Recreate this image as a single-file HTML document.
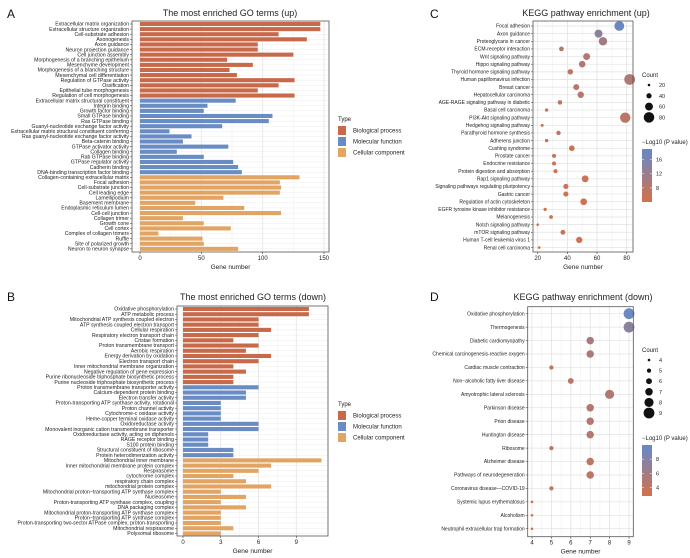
<!DOCTYPE html>
<html><head><meta charset="utf-8">
<style>
body{margin:0;background:#fff;}
svg{display:block;font-family:"Liberation Sans",Arial,sans-serif;}
</style></head>
<body>
<svg id="fig" width="690" height="558" viewBox="0 0 690 558" xmlns="http://www.w3.org/2000/svg"></svg>
<script>
// ---- Panel A data ----
const aLabels=["Extracellular matrix organization","Extracellular structure organization","Cell-substrate adhesion","Axonogenesis","Axon guidance","Neuron projection guidance","Cell junction assembly","Morphogenesis of a branching epithelium","Mesenchyme development","Morphogenesis of a branching structure","Mesenchymal cell differentiation","Regulation of GTPase activity","Ossification","Epithelial tube morphogenesis","Regulation of cell morphogenesis","Extracellular matrix structural constituent","Integrin binding","Growth factor binding","Small GTPase binding","Ras GTPase binding","Guanyl-nucleotide exchange factor activity","Extracellular matrix structural constituent conferring","Ras guanyl-nucleotide exchange factor activity","Beta-catenin binding","GTPase activator activity","Collagen binding","Rab GTPase binding","GTPase regulator activity","Cadherin binding","DNA-binding transcription factor binding","Collagen-containing extracellular matrix","Focal adhesion","Cell-substrate junction","Cell leading edge","Lamellipodium","Basement membrane","Endoplasmic reticulum lumen","Cell-cell junction","Collagen trimer","Growth cone","Cell cortex","Complex of collagen trimers","Ruffle","Site of polarized growth","Neuron to neuron synapse"];
const aValues=[147,147,113,136,96,96,125,71,92,73,79,126,113,96,126,78,55,52,108,105,67,24,42,35,72,30,52,76,80,83,130,114,115,114,68,45,85,115,35,52,74,15,51,52,80];
const aTypes=[0,0,0,0,0,0,0,0,0,0,0,0,0,0,0,1,1,1,1,1,1,1,1,1,1,1,1,1,1,1,2,2,2,2,2,2,2,2,2,2,2,2,2,2,2];
const aTicks=[0,50,100,150];
// ---- Panel B data ----
const bLabels=["Oxidative phosphorylation","ATP metabolic process","Mitochondrial ATP synthesis coupled electron","ATP synthesis coupled electron transport","Cellular respiration","Respiratory electron transport chain","Cristae formation","Proton transmembrane transport","Aerobic respiration","Energy derivation by oxidation","Electron transport chain","Inner mitochondrial membrane organization","Negative regulation of gene expression","Purine ribonucleoside triphosphate biosynthetic process","Purine nucleoside triphosphate biosynthetic process","Proton transmembrane transporter activity","Calcium-dependent protein binding","Electron transfer activity","Proton-transporting ATP synthase activity, rotational","Proton channel activity","Cytochrome-c oxidase activity","Heme-copper terminal oxidase activity","Oxidoreductase activity","Monovalent inorganic cation transmembrane transporter","Oxidoreductase activity, acting on diphenols","RAGE receptor binding","S100 protein binding","Structural constituent of ribosome","Protein heterodimerization activity","Mitochondrial inner membrane","Inner mitochondrial membrane protein complex","Respirasome","cytochrome complex","respiratory chain complex","mitochondrial protein complex","Mitochondrial proton\u2212transporting ATP synthase complex","Nucleosome","Proton-transporting ATP synthase complex, coupling","DNA packaging complex","Mitochondrial proton-transporting ATP synthase complex","Proton\u2212transporting ATP synthase complex","Proton-transporting two-sector ATPase complex, proton-transporting","Mitochondrial respirasome","Polysomal ribosome"];
const bValues=[10,10,6,6,7,6,4,6,5,7,6,4,5,4,4,6,5,5,3,3,3,3,6,6,2,2,2,4,4,11,7,6,4,5,7,3,5,3,5,3,3,3,4,3];
const bTypes=[0,0,0,0,0,0,0,0,0,0,0,0,0,0,0,1,1,1,1,1,1,1,1,1,1,1,1,1,1,2,2,2,2,2,2,2,2,2,2,2,2,2,2,2];
const bTicks=[0,3,6,9];
// ---- Panel C data ----
const cLabels=["Focal adhesion","Axon guidance","Proteoglycans in cancer","ECM-receptor interaction","Wnt signaling pathway","Hippo signaling pathway","Thyroid hormone signaling pathway","Human papillomavirus infection","Breast cancer","Hepatocellular carcinoma","AGE-RAGE signaling pathway in diabetic","Basal cell carcinoma","PI3K-Akt signaling pathway","Hedgehog signaling pathway","Parathyroid hormone synthesis","Adherens junction","Cushing syndrome","Prostate cancer","Endocrine resistance","Protein digestion and absorption","Rap1 signaling pathway","Signaling pathways regulating pluripotency","Gastric cancer","Regulation of actin cytoskeleton","EGFR tyrosine kinase inhibitor resistance","Melanogenesis","Notch signaling pathway","mTOR signaling pathway","Human T-cell leukemia virus 1","Renal cell carcinoma"];
const cCounts=[75,61,64,36,53,50,42,82,46,49,35,26,79,23,34,26,43,31,31,32,52,39,39,51,25,29,20,37,48,21];
const cLogP=[18,13.5,11,8,8.5,8.5,7.5,9,8,8,7,6.5,7.5,6.5,6.5,5.5,5.5,5.5,5.5,5.5,5.5,5,5,5,5,5,5,5,5,5];
const cTicks=[20,40,60,80];
const cSizeTicks=[20,40,60,80];
const cColorTicks=[16,12,8];
// ---- Panel D data ----
const dLabels=["Oxidative phosphorylation","Thermogenesis","Diabetic cardiomyopathy","Chemical carcinogenesis-reactive oxygen","Cardiac muscle contraction","Non\u2212alcoholic fatty liver disease","Amyotrophic lateral sclerosis","Parkinson disease","Prion disease","Huntington disease","Ribosome","Alzheimer disease","Pathways of neurodegeneration","Coronavirus disease\u2014COVID-19","Systemic lupus erythematosus","Alcoholism","Neutrophil extracellular trap formation"];
const dCounts=[9,9,7,7,5,6,8,7,7,7,5,7,7,5,4,4,4];
const dLogP=[9.6,7.6,5.5,5.5,4.5,4.5,5,5,5,5,4,4.5,4.5,3.8,3,3,3];
const dTicks=[4,5,6,7,8,9];
const dSizeTicks=[4,5,6,7,8,9];
const dColorTicks=[8,6,4];

const NS="http://www.w3.org/2000/svg";
const svg=document.getElementById('fig');
const typeColors=["#c8694a","#6a8cc4","#e2a463"];
const typeNames=["Biological process","Molecular function","Cellular component"];
function mk(tag,attrs,parent){const e=document.createElementNS(NS,tag);for(const k in attrs)e.setAttribute(k,attrs[k]);(parent||svg).appendChild(e);return e;}
function txt(s,x,y,size,anchor,parent,fill){const t=mk('text',{x:x,y:y,'font-size':size,'text-anchor':anchor||'start',fill:fill||'#222'},parent);t.textContent=s;return t;}
function lerpColor(t){t=Math.max(0,Math.min(1,t));const a=[212,113,74],b=[101,137,200];return 'rgb('+a.map((v,i)=>Math.round(v+(b[i]-v)*t)).join(',')+')';}

function barPanel(id,labels,values,types,ticks,p){
  const g=mk('g',{});
  
  
  const xs=v=>p.x0+(v-ticks[0])*(p.x1-p.x0)/(ticks[ticks.length-1]-ticks[0]);
  const ys=i=>p.y0+i*p.step;
  for(let i=0;i<ticks.length;i++){
    const x=xs(ticks[i]);
    mk('line',{x1:x,x2:x,y1:p.top,y2:p.bot,stroke:'#e4e4e4','stroke-width':0.8},g);
    if(i<ticks.length-1){const xm=(x+xs(ticks[i+1]))/2;mk('line',{x1:xm,x2:xm,y1:p.top,y2:p.bot,stroke:'#efefef','stroke-width':0.5},g);}
    mk('line',{x1:x,x2:x,y1:p.bot,y2:p.bot+2,stroke:'#333','stroke-width':0.6},g);
    const tl=txt(ticks[i],x,p.bot+8,p.tfs,'middle',g);
    
    
  }
  labels.forEach((l,i)=>{
    const y=ys(i);
    mk('line',{x1:p.left,x2:p.right,y1:y,y2:y,stroke:'#ececec','stroke-width':0.5},g);
    const r=mk('rect',{x:xs(0),y:y-p.bh/2,width:xs(values[i])-xs(0),height:p.bh,fill:typeColors[types[i]]},g);
    
    
    mk('line',{x1:p.left-2,x2:p.left,y1:y,y2:y,stroke:'#333','stroke-width':0.5},g);
    const t=txt(l,p.left-3,y+1.7,p.lfs,'end',g);
    
    
  });
  mk('rect',{x:p.left,y:p.top,width:p.right-p.left,height:p.bot-p.top,fill:'none',stroke:'#555','stroke-width':0.8},g);
  const at=txt('Gene number',(p.left+p.right)/2,p.bot+17,6.5,'middle',g);
  
  
  const tt=txt(p.title,p.tx,p.ty,9,'middle',g);
  
  
  const pl=txt(p.letter,p.lx,p.ly,12,'start',g,'#111');
  
  
}
function dotPanel(id,labels,counts,logp,ticks,p){
  const g=mk('g',{});
  
  
  const xs=v=>p.x0+(v-ticks[0])*(p.x1-p.x0)/(ticks[ticks.length-1]-ticks[0]);
  const ys=i=>p.y0+i*p.step;
  for(let i=0;i<ticks.length;i++){
    const x=xs(ticks[i]);
    mk('line',{x1:x,x2:x,y1:p.top,y2:p.bot,stroke:'#e2e2e2','stroke-width':0.8},g);
    if(i<ticks.length-1){const xm=(x+xs(ticks[i+1]))/2;mk('line',{x1:xm,x2:xm,y1:p.top,y2:p.bot,stroke:'#eeeeee','stroke-width':0.5},g);}
    mk('line',{x1:x,x2:x,y1:p.bot,y2:p.bot+2,stroke:'#333','stroke-width':0.6},g);
    const tl=txt(ticks[i],x,p.bot+8,p.tfs,'middle',g);
    
    
  }
  labels.forEach((l,i)=>{
    const y=ys(i);
    mk('line',{x1:p.left,x2:p.right,y1:y,y2:y,stroke:'#e2e2e2','stroke-width':0.7},g);
    mk('line',{x1:p.left-2,x2:p.left,y1:y,y2:y,stroke:'#333','stroke-width':0.5},g);
    const t=txt(l,p.left-3,y+1.7,p.lfs,'end',g);
    
    
  });
  const rs=v=>p.rmin+(p.rmax-p.rmin)*(v-p.smin)/(p.smax-p.smin);
  const cs=v=>lerpColor((v-p.cmin)/(p.cmax-p.cmin));
  labels.forEach((l,i)=>{
    const c=mk('circle',{cx:xs(counts[i]),cy:ys(i),r:rs(counts[i]),fill:cs(logp[i])},g);
    
    
  });
  mk('rect',{x:p.left,y:p.top,width:p.right-p.left,height:p.bot-p.top,fill:'none',stroke:'#555','stroke-width':0.8},g);
  const at=txt('Gene number',(p.left+p.right)/2,p.bot+17,6.5,'middle',g);
  
  
  const tt=txt(p.title,p.tx,p.ty,9,'middle',g);
  
  
  const pl=txt(p.letter,p.lx,p.ly,12,'start',g,'#111');
  
  
  const ct=txt('Count',p.legx,p.cy0-8,6,'start',g);
  
  
  p.sizeTicks.forEach((v,i)=>{
    const y=p.cy0+i*p.cstep;
    const c=mk('circle',{cx:p.legx+7,cy:y,r:rs(v),fill:'#111'},g);
    
    
    txt(v,p.legx+17,y+2,5.5,'start',g);
  });
  const cbt=txt('\u2212Log10 (P value)',p.legx,p.cbTop-5,6,'start',g);
  
  
  const gid='grad'+id;
  const defs=mk('defs',{},g);
  const lg=mk('linearGradient',{id:gid,x1:0,y1:1,x2:0,y2:0},defs);
  mk('stop',{offset:0,'stop-color':lerpColor(0)},lg);
  mk('stop',{offset:0.5,'stop-color':lerpColor(0.5)},lg);
  mk('stop',{offset:1,'stop-color':lerpColor(1)},lg);
  const cb=mk('rect',{x:p.legx,y:p.cbTop,width:10,height:p.cbBot-p.cbTop,fill:'url(#'+gid+')'},g);
  
  
  p.colorTicks.forEach(v=>{
    const y=p.cbBot-(v-p.cmin)/(p.cmax-p.cmin)*(p.cbBot-p.cbTop);
    mk('line',{x1:p.legx,x2:p.legx+2,y1:y,y2:y,stroke:'#fff','stroke-width':0.5},g);
    mk('line',{x1:p.legx+8,x2:p.legx+10,y1:y,y2:y,stroke:'#fff','stroke-width':0.5},g);
    txt(v,p.legx+14,y+2,5.5,'start',g);
  });
}
function typeLegend(y){
  const g=mk('g',{});
  
  
  txt('Type',338,y,6,'start',g);
  typeNames.forEach((n,i)=>{
    const yy=y+5+i*11;
    const r=mk('rect',{x:338,y:yy,width:8,height:9,fill:typeColors[i]},g);
    
    
    txt(n,353,yy+6.5,6,'start',g);
  });
}
barPanel('go-up',aLabels,aValues,aTypes,aTicks,{x0:140,x1:324,left:132,right:329,top:21,bot:252,y0:24,step:5.11,bh:4.1,lfs:5.2,tfs:6,title:'The most enriched GO terms (up)',tx:230,ty:16,letter:'A',lx:7,ly:18});
barPanel('go-down',bLabels,bValues,bTypes,bTicks,{x0:183,x1:296.3,left:177,right:328,top:306,bot:536,y0:309,step:5.22,bh:4.1,lfs:5.2,tfs:6,title:'The most enriched GO terms (down)',tx:253,ty:300,letter:'B',lx:7,ly:301});
dotPanel('kegg-up',cLabels,cCounts,cLogP,cTicks,{x0:537.7,x1:626.7,left:533,right:633,top:21,bot:252,y0:26,step:7.64,lfs:5,tfs:6,rmin:1.3,rmax:5.4,smin:20,smax:82,cmin:4,cmax:19,title:'KEGG pathway enrichment (up)',tx:586,ty:16,letter:'C',lx:430,ly:18,legx:642,cy0:85,cstep:10.8,sizeTicks:cSizeTicks,cbTop:149,cbBot:202,colorTicks:cColorTicks});
dotPanel('kegg-down',dLabels,dCounts,dLogP,dTicks,{x0:532,x1:629,left:527.7,right:633.3,top:306.7,bot:536.7,y0:313.7,step:13.44,lfs:5,tfs:6,rmin:1.3,rmax:5.4,smin:4,smax:9,cmin:2.8,cmax:10,title:'KEGG pathway enrichment (down)',tx:583,ty:300,letter:'D',lx:430,ly:301,legx:642,cy0:360,cstep:10.6,sizeTicks:dSizeTicks,cbTop:445,cbBot:496,colorTicks:dColorTicks});
typeLegend(121);
typeLegend(406);
</script>
</body></html>
